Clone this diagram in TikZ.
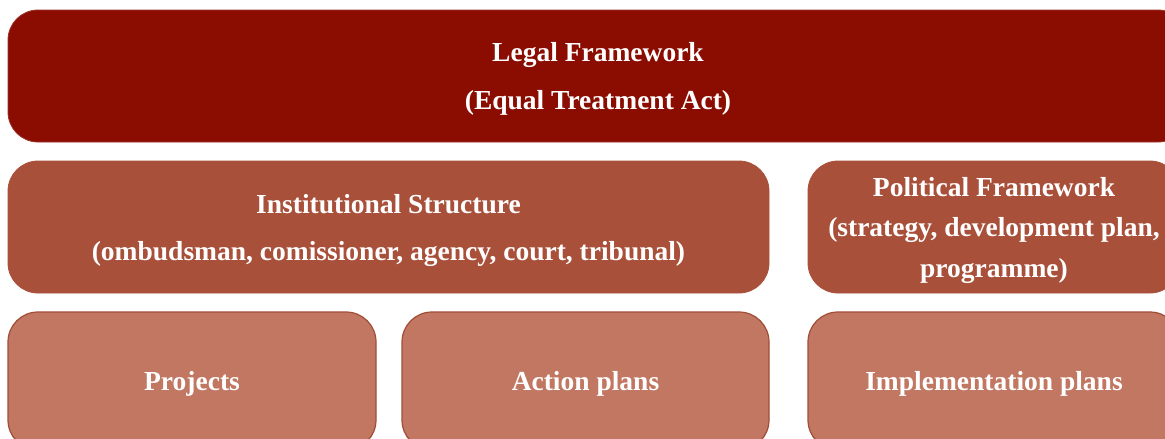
\documentclass[tikz,border=0pt]{standalone}
\usepackage{fontspec}
\setmainfont{Liberation Serif}
\usepackage{xcolor}
\definecolor{lawred}{RGB}{139,13,2}
\definecolor{pillarred}{RGB}{169,80,58}
\definecolor{measurered}{RGB}{193,119,97}
\usepackage{tikz}

\begin{document}
\begin{tikzpicture}[
    x=1pt, y=-1pt,
    base/.style ={rectangle, rounded corners=30pt, inner sep=0pt,
                  text=white, align=center, text depth=0pt},
    frame/.style ={base, fill=lawred, draw=lawred!85!white, line width=0.8pt,
                   minimum width=1180pt, minimum height=132pt,
                   font=\fontsize{27.5}{48}\selectfont\bfseries},
    pillar/.style ={base, fill=pillarred, draw=pillarred, line width=0.8pt,
                    minimum height=132pt,
                    font=\fontsize{27.5}{47}\selectfont\bfseries},
    measure/.style ={base, fill=measurered, draw=pillarred!95!black,
                     line width=1.2pt, minimum height=138pt,
                     font=\fontsize{27.5}{30}\selectfont\bfseries}
]
\clip (0,0) rectangle (1165,439);
\fill[white] (0,0) rectangle (1165,439);

%% --- top: legal basis ---
\node[frame] (legal) at (598,76) {Legal Framework\\(Equal Treatment Act)};

%% --- middle row ---
\node[pillar, minimum width=761pt] (inst) at (388.5,227)
    {Institutional Structure\\(ombudsman, comissioner, agency, court, tribunal)};
\node[pillar, minimum width=372pt, font=\fontsize{27.5}{40.5}\selectfont\bfseries]
    (pol) at (994,227)
    {Political Framework\\(strategy, development plan,\\programme)};

%% --- bottom row ---
\node[measure, minimum width=368pt] (proj) at (192,381) {Projects};
\node[measure, minimum width=367pt] (act) at (585.5,381) {Action plans};
\node[measure, minimum width=372pt] (impl) at (994,381) {Implementation plans};
\end{tikzpicture}
\end{document}
